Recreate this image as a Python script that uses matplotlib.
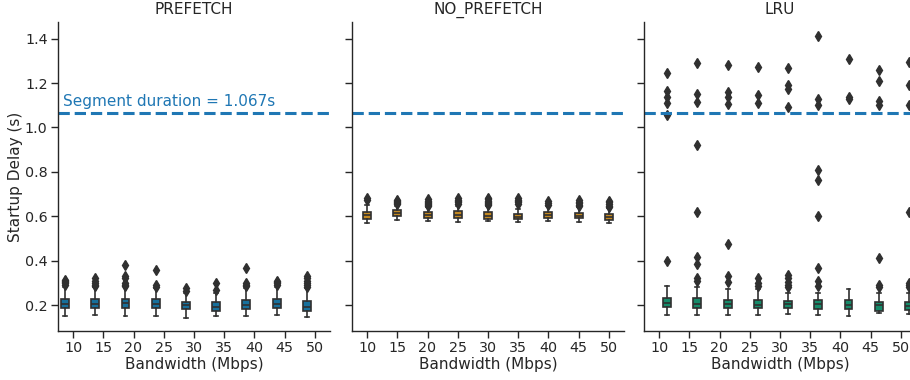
import numpy as np
import matplotlib
matplotlib.use("Agg")
import matplotlib.pyplot as plt

bandwidths = [10, 15, 20, 25, 30, 35, 40, 45, 50]
policies = ["PREFETCH", "NO_PREFETCH", "LRU"]
segment_duration = 1.067

# box stats: lower whisker, q1, median, q3, upper whisker
prefetch_lo = [0.152, 0.153, 0.152, 0.152, 0.143, 0.150, 0.152, 0.153, 0.147]
prefetch_q1 = [0.185, 0.188, 0.188, 0.188, 0.180, 0.175, 0.183, 0.188, 0.175]
prefetch_med = [0.205, 0.205, 0.207, 0.205, 0.198, 0.193, 0.200, 0.205, 0.190]
prefetch_q3 = [0.228, 0.226, 0.228, 0.225, 0.215, 0.213, 0.222, 0.228, 0.218]
prefetch_hi = [0.280, 0.280, 0.280, 0.275, 0.255, 0.252, 0.275, 0.280, 0.275]
prefetch_fliers = [
    [0.290, 0.300, 0.305, 0.310, 0.315],
    [0.285, 0.290, 0.300, 0.310, 0.320],
    [0.285, 0.290, 0.300, 0.320, 0.330, 0.380],
    [0.280, 0.290, 0.360],
    [0.265, 0.275],
    [0.267, 0.300],
    [0.285, 0.290, 0.300, 0.365],
    [0.290, 0.300, 0.305, 0.310],
    [0.280, 0.290, 0.300, 0.310, 0.320, 0.330],
]

noprefetch_lo = [0.570, 0.582, 0.578, 0.575, 0.577, 0.576, 0.580, 0.575, 0.568]
noprefetch_q1 = [0.588, 0.600, 0.592, 0.593, 0.589, 0.588, 0.592, 0.590, 0.585]
noprefetch_med = [0.604, 0.613, 0.605, 0.607, 0.602, 0.598, 0.605, 0.602, 0.596]
noprefetch_q3 = [0.619, 0.627, 0.618, 0.622, 0.618, 0.612, 0.618, 0.615, 0.610]
noprefetch_hi = [0.649, 0.645, 0.640, 0.645, 0.645, 0.632, 0.645, 0.640, 0.635]
noprefetch_fliers = [
    [0.675, 0.684],
    [0.655, 0.660, 0.665, 0.670, 0.675],
    [0.645, 0.650, 0.655, 0.660, 0.665, 0.670, 0.678],
    [0.655, 0.662, 0.668, 0.675, 0.680],
    [0.650, 0.655, 0.660, 0.665, 0.670, 0.676, 0.684],
    [0.655, 0.662, 0.668, 0.674, 0.680],
    [0.650, 0.658, 0.668],
    [0.645, 0.652, 0.658, 0.665, 0.672],
    [0.640, 0.648, 0.655, 0.662, 0.670],
]

lru_lo = [0.156, 0.156, 0.156, 0.155, 0.158, 0.156, 0.150, 0.163, 0.158]
lru_q1 = [0.190, 0.185, 0.185, 0.185, 0.185, 0.180, 0.180, 0.175, 0.178]
lru_med = [0.208, 0.204, 0.205, 0.202, 0.203, 0.204, 0.200, 0.198, 0.196]
lru_q3 = [0.233, 0.230, 0.222, 0.222, 0.218, 0.222, 0.222, 0.215, 0.215]
lru_hi = [0.287, 0.280, 0.270, 0.272, 0.253, 0.253, 0.273, 0.253, 0.253]
lru_fliers = [
    [0.400, 1.054, 1.109, 1.139, 1.166, 1.244],
    [0.310, 0.320, 0.387, 0.417, 0.618, 0.922, 1.114, 1.151, 1.289],
    [0.305, 0.332, 0.473, 1.106, 1.139, 1.159, 1.283],
    [0.285, 0.297, 0.320, 1.109, 1.148, 1.271],
    [0.280, 0.290, 0.305, 0.320, 0.335, 1.094, 1.174, 1.189, 1.268],
    [0.285, 0.309, 0.365, 0.600, 0.765, 0.810, 1.102, 1.129, 1.411],
    [1.126, 1.139, 1.309],
    [0.280, 0.290, 0.413, 1.103, 1.121, 1.211, 1.259],
    [0.280, 0.290, 0.300, 0.617, 1.103, 1.189, 1.297],
]

colors = ["#17709c", "#c38820", "#168b6a"]
gray = "#303030"

data = {
    "PREFETCH": (prefetch_lo, prefetch_q1, prefetch_med, prefetch_q3, prefetch_hi, prefetch_fliers),
    "NO_PREFETCH": (noprefetch_lo, noprefetch_q1, noprefetch_med, noprefetch_q3, noprefetch_hi, noprefetch_fliers),
    "LRU": (lru_lo, lru_q1, lru_med, lru_q3, lru_hi, lru_fliers),
}

plt.rcParams["font.family"] = "DejaVu Sans"
plt.rcParams["text.color"] = ".15"
plt.rcParams["axes.labelcolor"] = ".15"
plt.rcParams["xtick.color"] = ".15"
plt.rcParams["ytick.color"] = ".15"

fig = plt.figure(figsize=(9.1, 3.8), dpi=100)
lefts = [58 / 910, 352 / 910, 644 / 910]
width = 272 / 910
bottom = 1 - 331 / 380
height = (331 - 22) / 380

n_hue = len(policies)
box_w = 0.8 / n_hue * 0.98
offsets = [(-0.8 / 2 + 0.8 / n_hue * (i + 0.5)) for i in range(n_hue)]

for i, pol in enumerate(policies):
    ax = fig.add_axes([lefts[i], bottom, width, height])
    lo, q1, med, q3, hi, fl = data[pol]
    stats = []
    for k in range(len(bandwidths)):
        stats.append({"whislo": lo[k], "q1": q1[k], "med": med[k], "q3": q3[k],
                      "whishi": hi[k], "fliers": fl[k]})
    pos = np.arange(len(bandwidths)) + offsets[i]
    ax.bxp(stats, positions=pos, widths=box_w, patch_artist=True,
           boxprops=dict(facecolor=colors[i], edgecolor=gray, linewidth=1.2),
           medianprops=dict(color=gray, linewidth=1.2),
           whiskerprops=dict(color=gray, linewidth=1.2),
           capprops=dict(color=gray, linewidth=1.2),
           flierprops=dict(marker="d", markersize=5, markerfacecolor=gray,
                           markeredgecolor=gray, linestyle="none"),
           manage_ticks=False)
    ax.axhline(segment_duration, color="#1f77b4", linestyle="--", linewidth=2.2)
    if i == 0:
        ax.text(-0.35, 1.095, "Segment duration = 1.067s", color="#1f77b4",
                fontsize=11, va="baseline")
        ax.set_ylabel("Startup Delay (s)", fontsize=11, labelpad=1)
    ax.set_xlim(-0.5, len(bandwidths) - 0.5)
    ax.set_ylim(0.083, 1.475)
    ax.set_xticks(np.arange(len(bandwidths)))
    ax.set_xticklabels([str(b) for b in bandwidths])
    ax.set_yticks([0.2, 0.4, 0.6, 0.8, 1.0, 1.2, 1.4])
    if i > 0:
        ax.set_yticklabels([])
    ax.tick_params(labelsize=10.3, length=5, width=1.0, pad=2.5)
    ax.set_xlabel("Bandwidth (Mbps)", fontsize=11, labelpad=1)
    ax.set_title(pol, fontsize=11, pad=6)
    ax.spines["top"].set_visible(False)
    ax.spines["right"].set_visible(False)
    for s in ["left", "bottom"]:
        ax.spines[s].set_color(".15")
        ax.spines[s].set_linewidth(1.0)

fig.savefig("out.png", dpi=100)
